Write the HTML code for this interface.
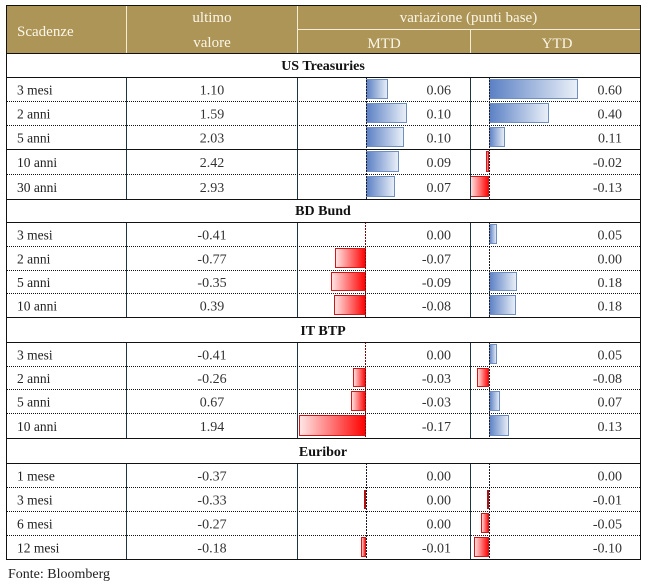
<!DOCTYPE html>
<html><head><meta charset="utf-8">
<style>
html,body{margin:0;padding:0;background:#fff;}
svg{display:block;}
text{font-family:"Liberation Serif",serif;}
.h{fill:#fbf6e8;font-size:15px;}
.s{font-size:14px;font-weight:bold;fill:#111;}
.l{font-size:13.5px;fill:#222;}
.n{font-size:14px;fill:#333;}
</style></head>
<body>
<svg width="650" height="586" viewBox="0 0 650 586" xmlns="http://www.w3.org/2000/svg">
<defs>
<linearGradient id="bg" x1="0" y1="0" x2="1" y2="0"><stop offset="0" stop-color="#5b80c4"/><stop offset="1" stop-color="#eaf0f8"/></linearGradient>
<linearGradient id="rg" x1="0" y1="0" x2="1" y2="0"><stop offset="0" stop-color="#ffe6e6"/><stop offset="1" stop-color="#ff0000"/></linearGradient>
</defs>
<rect width="650" height="586" fill="#fff"/>
<!-- header -->
<rect x="6" y="5" width="635" height="48" fill="#ad9558"/>
<g stroke="#f4ecd4" stroke-width="1">
<line x1="126.5" y1="5" x2="126.5" y2="53"/>
<line x1="297.5" y1="5" x2="297.5" y2="53"/>
<line x1="297" y1="29.5" x2="640" y2="29.5"/>
<line x1="470.5" y1="29" x2="470.5" y2="53"/>
</g>
<text class="h" x="17" y="36">Scadenze</text>
<text class="h" x="212" y="22" text-anchor="middle">ultimo</text>
<text class="h" x="212" y="47" text-anchor="middle">valore</text>
<text class="h" x="468.5" y="22" text-anchor="middle">variazione (punti base)</text>
<text class="h" x="384" y="48" text-anchor="middle">MTD</text>
<text class="h" x="557" y="48" text-anchor="middle">YTD</text>

<g fill="url(#bg)" stroke="#6f8fc2" stroke-width="1">
<rect x="366.5" y="79.5" width="21" height="19"/>
<rect x="366.5" y="103.5" width="40" height="19"/>
<rect x="366.5" y="127.5" width="37" height="19"/>
<rect x="366.5" y="151.5" width="32" height="20"/>
<rect x="366.5" y="176.5" width="28" height="20"/>
<rect x="489.5" y="79.5" width="88" height="19"/>
<rect x="489.5" y="103.5" width="59" height="19"/>
<rect x="489.5" y="127.5" width="15" height="19"/>
<rect x="489.5" y="224.5" width="7" height="19"/>
<rect x="489.5" y="272.5" width="27" height="18"/>
<rect x="489.5" y="295.5" width="26" height="19"/>
<rect x="489.5" y="344.5" width="7" height="19"/>
<rect x="489.5" y="391.5" width="10" height="19"/>
<rect x="489.5" y="415.5" width="19" height="20"/>
</g>
<g fill="url(#rg)" stroke="#d01818" stroke-width="1">
<rect x="335.5" y="248.5" width="30" height="19"/>
<rect x="331.5" y="272.5" width="34" height="18"/>
<rect x="334.5" y="295.5" width="31" height="19"/>
<rect x="353.5" y="368.5" width="12" height="18"/>
<rect x="351.5" y="391.5" width="14" height="19"/>
<rect x="299.5" y="415.5" width="66" height="20"/>
<rect x="361.5" y="537.5" width="4" height="19"/>
<rect x="486.5" y="151.5" width="2" height="20"/>
<rect x="470.5" y="176.5" width="18" height="20"/>
<rect x="477.5" y="368.5" width="11" height="18"/>
<rect x="481.5" y="513.5" width="7" height="19"/>
<rect x="474.5" y="537.5" width="14" height="19"/>
</g>
<rect x="364" y="490" width="2" height="19" fill="#b01010"/>
<rect x="487" y="490" width="2" height="19" fill="#b01010"/>

<g stroke="#1a1a2a" stroke-width="1" stroke-dasharray="2,1">
<line x1="366.5" y1="77" x2="366.5" y2="199"/>
<line x1="489.5" y1="77" x2="489.5" y2="199"/>
<line x1="489.5" y1="222" x2="489.5" y2="317"/>
<line x1="489.5" y1="342" x2="489.5" y2="438"/>
<line x1="366.5" y1="463" x2="366.5" y2="559"/>
<line x1="489.5" y1="463" x2="489.5" y2="559"/>
</g>
<g stroke="#7a0a0a" stroke-width="1" stroke-dasharray="2,1">
<line x1="365.5" y1="222" x2="365.5" y2="317"/>
<line x1="365.5" y1="342" x2="365.5" y2="438"/>
</g>

<g stroke="#1d3646" stroke-width="1">
<line x1="126.5" y1="77" x2="126.5" y2="199"/>
<line x1="297.5" y1="77" x2="297.5" y2="199"/>
<line x1="470.5" y1="77" x2="470.5" y2="199"/>
<line x1="126.5" y1="222" x2="126.5" y2="317"/>
<line x1="297.5" y1="222" x2="297.5" y2="317"/>
<line x1="470.5" y1="222" x2="470.5" y2="317"/>
<line x1="126.5" y1="342" x2="126.5" y2="438"/>
<line x1="297.5" y1="342" x2="297.5" y2="438"/>
<line x1="470.5" y1="342" x2="470.5" y2="438"/>
<line x1="126.5" y1="463" x2="126.5" y2="559"/>
<line x1="297.5" y1="463" x2="297.5" y2="559"/>
<line x1="470.5" y1="463" x2="470.5" y2="559"/>
</g>

<g stroke="#111" stroke-width="1">
<line x1="6" y1="5.5" x2="641" y2="5.5"/>
<line x1="6" y1="53.5" x2="641" y2="53.5"/>
<line x1="6" y1="77.5" x2="641" y2="77.5"/>
<line x1="6" y1="149.5" x2="641" y2="149.5"/>
<line x1="6" y1="199.5" x2="641" y2="199.5"/>
<line x1="6" y1="222.5" x2="641" y2="222.5"/>
<line x1="6" y1="317.5" x2="641" y2="317.5"/>
<line x1="6" y1="342.5" x2="641" y2="342.5"/>
<line x1="6" y1="438.5" x2="641" y2="438.5"/>
<line x1="6" y1="463.5" x2="641" y2="463.5"/>
<line x1="6" y1="559.5" x2="641" y2="559.5"/>
<line x1="6.5" y1="5" x2="6.5" y2="560"/>
<line x1="640.5" y1="5" x2="640.5" y2="560"/>
</g>
<g stroke="#111" stroke-width="1" stroke-dasharray="1,1">
<line x1="7" y1="101.5" x2="640" y2="101.5"/>
<line x1="7" y1="125.5" x2="640" y2="125.5"/>
<line x1="7" y1="174.5" x2="640" y2="174.5"/>
<line x1="7" y1="246.5" x2="640" y2="246.5"/>
<line x1="7" y1="270.5" x2="640" y2="270.5"/>
<line x1="7" y1="293.5" x2="640" y2="293.5"/>
<line x1="7" y1="366.5" x2="640" y2="366.5"/>
<line x1="7" y1="389.5" x2="640" y2="389.5"/>
<line x1="7" y1="413.5" x2="640" y2="413.5"/>
<line x1="7" y1="487.5" x2="640" y2="487.5"/>
<line x1="7" y1="511.5" x2="640" y2="511.5"/>
<line x1="7" y1="535.5" x2="640" y2="535.5"/>
</g>

<text class="s" x="323" y="70" text-anchor="middle">US Treasuries</text>
<text class="s" x="323" y="215" text-anchor="middle">BD Bund</text>
<text class="s" x="323" y="335" text-anchor="middle">IT BTP</text>
<text class="s" x="323" y="456" text-anchor="middle">Euribor</text>

<text class="l" x="17" y="94.5">3 mesi</text>
<text class="l" x="17" y="118.5">2 anni</text>
<text class="l" x="17" y="142.5">5 anni</text>
<text class="l" x="17" y="167">10 anni</text>
<text class="l" x="17" y="192">30 anni</text>
<text class="l" x="17" y="239.5">3 mesi</text>
<text class="l" x="17" y="263.5">2 anni</text>
<text class="l" x="17" y="287">5 anni</text>
<text class="l" x="17" y="310.5">10 anni</text>
<text class="l" x="17" y="359.5">3 mesi</text>
<text class="l" x="17" y="383">2 anni</text>
<text class="l" x="17" y="406.5">5 anni</text>
<text class="l" x="17" y="431">10 anni</text>
<text class="l" x="17" y="480.5">1 mese</text>
<text class="l" x="17" y="504.5">3 mesi</text>
<text class="l" x="17" y="528.5">6 mesi</text>
<text class="l" x="17" y="552.5">12 mesi</text>

<g text-anchor="middle">
<text class="n" x="212" y="94.5">1.10</text>
<text class="n" x="212" y="118.5">1.59</text>
<text class="n" x="212" y="142.5">2.03</text>
<text class="n" x="212" y="167">2.42</text>
<text class="n" x="212" y="192">2.93</text>
<text class="n" x="212" y="239.5">-0.41</text>
<text class="n" x="212" y="263.5">-0.77</text>
<text class="n" x="212" y="287">-0.35</text>
<text class="n" x="212" y="310.5">0.39</text>
<text class="n" x="212" y="359.5">-0.41</text>
<text class="n" x="212" y="383">-0.26</text>
<text class="n" x="212" y="406.5">0.67</text>
<text class="n" x="212" y="431">1.94</text>
<text class="n" x="212" y="480.5">-0.37</text>
<text class="n" x="212" y="504.5">-0.33</text>
<text class="n" x="212" y="528.5">-0.27</text>
<text class="n" x="212" y="552.5">-0.18</text>
</g>
<g text-anchor="end">
<text class="n" x="451" y="94.5">0.06</text>
<text class="n" x="451" y="118.5">0.10</text>
<text class="n" x="451" y="142.5">0.10</text>
<text class="n" x="451" y="167">0.09</text>
<text class="n" x="451" y="192">0.07</text>
<text class="n" x="451" y="239.5">0.00</text>
<text class="n" x="451" y="263.5">-0.07</text>
<text class="n" x="451" y="287">-0.09</text>
<text class="n" x="451" y="310.5">-0.08</text>
<text class="n" x="451" y="359.5">0.00</text>
<text class="n" x="451" y="383">-0.03</text>
<text class="n" x="451" y="406.5">-0.03</text>
<text class="n" x="451" y="431">-0.17</text>
<text class="n" x="451" y="480.5">0.00</text>
<text class="n" x="451" y="504.5">0.00</text>
<text class="n" x="451" y="528.5">0.00</text>
<text class="n" x="451" y="552.5">-0.01</text>

<text class="n" x="622" y="94.5">0.60</text>
<text class="n" x="622" y="118.5">0.40</text>
<text class="n" x="622" y="142.5">0.11</text>
<text class="n" x="622" y="167">-0.02</text>
<text class="n" x="622" y="192">-0.13</text>
<text class="n" x="622" y="239.5">0.05</text>
<text class="n" x="622" y="263.5">0.00</text>
<text class="n" x="622" y="287">0.18</text>
<text class="n" x="622" y="310.5">0.18</text>
<text class="n" x="622" y="359.5">0.05</text>
<text class="n" x="622" y="383">-0.08</text>
<text class="n" x="622" y="406.5">0.07</text>
<text class="n" x="622" y="431">0.13</text>
<text class="n" x="622" y="480.5">0.00</text>
<text class="n" x="622" y="504.5">-0.01</text>
<text class="n" x="622" y="528.5">-0.05</text>
<text class="n" x="622" y="552.5">-0.10</text>
</g>

<text x="8" y="578" style="font-size:14px;fill:#222;">Fonte: Bloomberg</text>
</svg>
</body></html>
